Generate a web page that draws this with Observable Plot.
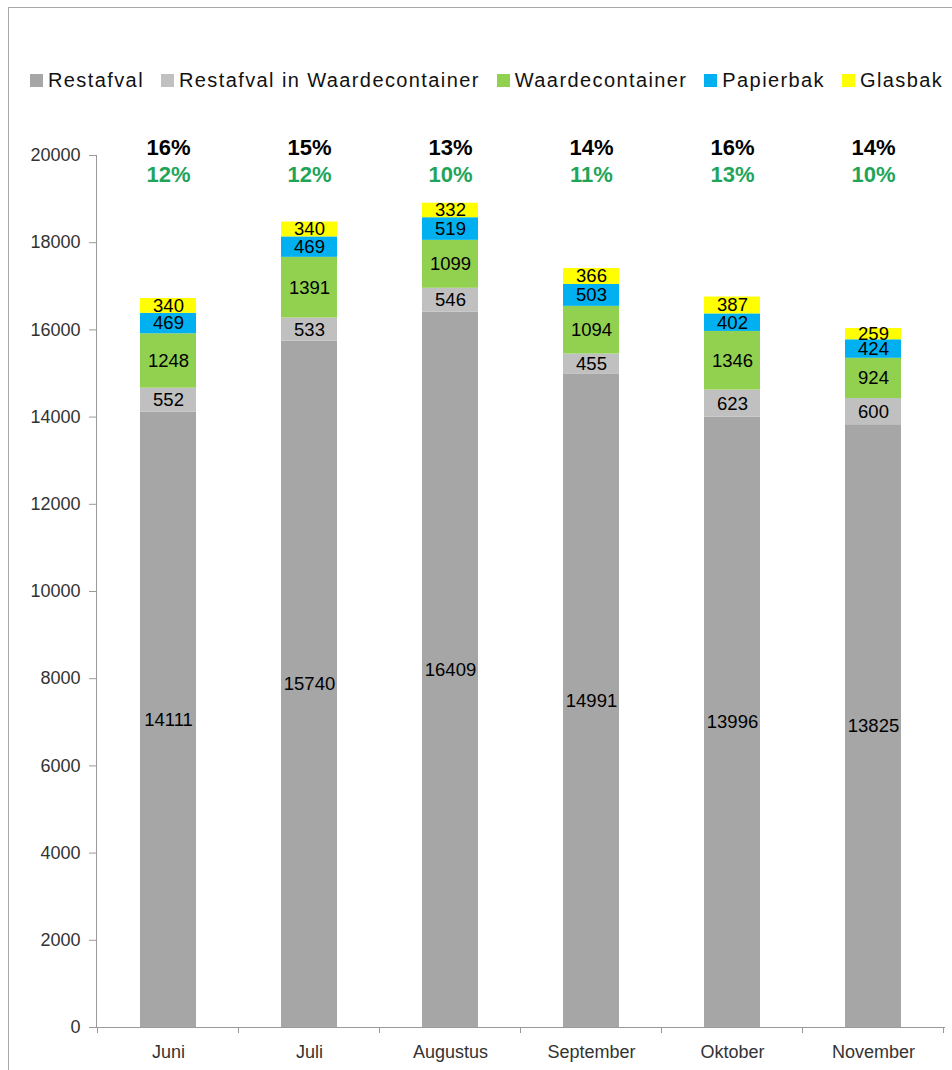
<!DOCTYPE html>
<html><head><meta charset="utf-8">
<script src="https://cdn.jsdelivr.net/npm/d3@7"></script>
<script src="https://cdn.jsdelivr.net/npm/@observablehq/plot@0.6"></script>
<style>
html,body{margin:0;padding:0;background:#fff;}
body{width:952px;height:1070px;overflow:hidden;position:relative;font-family:"Liberation Sans",Arial,sans-serif;}
#frame{position:absolute;left:8px;top:7px;width:1100px;height:1200px;border:1.5px solid #a8a8a8;box-sizing:border-box;}
#legend{position:absolute;left:30px;top:68px;height:24px;display:flex;align-items:center;font-size:20px;letter-spacing:1.4px;color:#111;white-space:nowrap;}
.item{display:flex;align-items:center;margin-right:17px;}
.sw{width:13px;height:13px;margin-right:5px;flex:none;}
#chart{position:absolute;left:0;top:100px;}
</style></head><body>
<div id="frame"></div>
<div id="legend"></div>
<div id="chart"></div>
<script>
const months = ["Juni", "Juli", "Augustus", "September", "Oktober", "November"];
const categories = ["Restafval", "Restafval in Waardecontainer", "Waardecontainer", "Papierbak", "Glasbak"];
const colors = ["#a6a6a6", "#c0c0c0", "#92d050", "#00b0f0", "#ffff00"];
const restafval = [14111, 15740, 16409, 14991, 13996, 13825];
const restafvalWC = [552, 533, 546, 455, 623, 600];
const waardecontainer = [1248, 1391, 1099, 1094, 1346, 924];
const papierbak = [469, 469, 519, 503, 402, 424];
const glasbak = [340, 340, 332, 366, 387, 259];
const pctTotal = ["16%", "15%", "13%", "14%", "16%", "14%"];
const pctSeparated = ["12%", "12%", "10%", "11%", "13%", "10%"];
const yTicks = [0, 2000, 4000, 6000, 8000, 10000, 12000, 14000, 16000, 18000, 20000];

const series = [restafval, restafvalWC, waardecontainer, papierbak, glasbak];
const rows = [];
months.forEach((m, i) => {
  let acc = 0;
  series.forEach((s, k) => {
    const v = s[i];
    rows.push({month: m, cat: categories[k], value: v, y1: acc, y2: acc + v, mid: acc + v / 2});
    acc += v;
  });
});

// legend
const legend = document.getElementById("legend");
categories.forEach((c, k) => {
  const it = document.createElement("div");
  it.className = "item";
  const sw = document.createElement("div");
  sw.className = "sw";
  sw.style.background = colors[k];
  const tx = document.createElement("span");
  tx.textContent = c;
  it.appendChild(sw); it.appendChild(tx);
  legend.appendChild(it);
});

const axisGray = "#9a9a9a";

function boundaryTicks(index, scales, values, dims) {
  const x = scales.x;
  const n = months.length;
  const plotW = dims.width - dims.marginLeft - dims.marginRight;
  const step = x.step ? x.step() : plotW / n;
  const bw = x.bandwidth ? x.bandwidth() : step * 0.4;
  const y0 = dims.height - dims.marginBottom;
  const g = d3.create("svg:g").attr("stroke", axisGray).attr("stroke-width", 1);
  const bounds = months.map(m => x(m) + bw / 2 - step / 2);
  bounds.push(x(months[n - 1]) + bw / 2 + step / 2);
  bounds.forEach(b => {
    g.append("line").attr("x1", b).attr("x2", b).attr("y1", y0).attr("y2", y0 + 6);
  });
  return g.node();
}

const chart = Plot.plot({
  width: 952,
  height: 970,
  marginTop: 55,
  marginBottom: 43,
  marginLeft: 96,
  marginRight: 7,
  style: {fontFamily: "Liberation Sans, Arial, sans-serif", fontSize: "18px", background: "transparent"},
  x: {domain: months, paddingInner: 0.6, paddingOuter: 0.3, label: null},
  y: {domain: [0, 20000], label: null},
  color: {domain: categories, range: colors},
  marks: [
    Plot.barY(rows, {x: "month", y1: "y1", y2: "y2", fill: "cat"}),
    Plot.ruleY([0], {stroke: axisGray}),
    Plot.frame({anchor: "left", stroke: axisGray}),
    Plot.axisY({ticks: yTicks, tickSize: 7, tickPadding: 9, tickFormat: d => String(d), fontSize: 18, stroke: axisGray, fill: "#333"}),
    Plot.axisX({tickSize: 0, tickPadding: 18, fontSize: 18, fill: "#333"}),
    boundaryTicks,
    Plot.text(rows, {x: "month", y: "mid", text: d => String(d.value), fontSize: 18.5, fill: "#000"}),
    Plot.text(months, {x: d => d, text: pctTotal, frameAnchor: "top", lineAnchor: "middle", dy: -8, fontSize: 22, fontWeight: "bold", fill: "#000"}),
    Plot.text(months, {x: d => d, text: pctSeparated, frameAnchor: "top", lineAnchor: "middle", dy: 19, fontSize: 22, fontWeight: "bold", fill: "#1fa55a"})
  ]
});
document.getElementById("chart").appendChild(chart);
</script></body></html>
